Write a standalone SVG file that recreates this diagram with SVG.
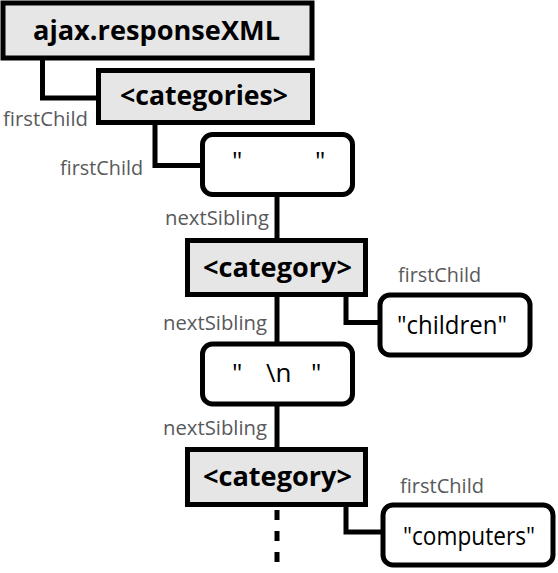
<svg xmlns="http://www.w3.org/2000/svg" width="558" height="573" viewBox="0 0 558 573">
<style>
.el{fill:#e6e6e7;stroke:#000;stroke-width:5}
.tx{fill:#fff;stroke:#000;stroke-width:5}
.bt{font-family:"Open Sans","Liberation Sans",sans-serif;font-weight:bold;font-size:26px;fill:#000}
.rt{font-family:"Open Sans","Liberation Sans",sans-serif;font-size:26px;fill:#000}
.lb{font-family:"Open Sans","Liberation Sans",sans-serif;font-size:20.5px;fill:#58595b}
.ln{fill:none;stroke:#000;stroke-width:5;stroke-linejoin:miter;stroke-linecap:butt}
</style>
<rect width="558" height="573" fill="#fff"/>
<g id="connectors">
<path class="ln" d="M42.5,58 V98 H98.5"/>
<path class="ln" d="M155,122.5 V165.5 H202.5"/>
<path class="ln" d="M277,194.5 V240.5"/>
<path class="ln" d="M346,294.5 V322.5 H380"/>
<path class="ln" d="M277,294.5 V344"/>
<path class="ln" d="M277,404 V449.5"/>
<path class="ln" d="M346,504.5 V532 H383"/>
<path class="ln" d="M277,510 V573" stroke-dasharray="10 11" stroke-width="4.5"/>
<text class="lb" x="3" y="126" textLength="85" lengthAdjust="spacingAndGlyphs">firstChild</text>
<text class="lb" x="60" y="175" textLength="83" lengthAdjust="spacingAndGlyphs">firstChild</text>
<text class="lb" x="165" y="225" textLength="104" lengthAdjust="spacingAndGlyphs">nextSibling</text>
<text class="lb" x="398" y="282" textLength="83" lengthAdjust="spacingAndGlyphs">firstChild</text>
<text class="lb" x="163" y="330" textLength="104" lengthAdjust="spacingAndGlyphs">nextSibling</text>
<text class="lb" x="163" y="435" textLength="104" lengthAdjust="spacingAndGlyphs">nextSibling</text>
<text class="lb" x="400" y="493" textLength="84" lengthAdjust="spacingAndGlyphs">firstChild</text>
</g>
<g id="responseXML">
<rect class="el" x="3" y="3" width="309" height="55" stroke-width="6"/>
<text class="bt" x="33" y="40" textLength="247" lengthAdjust="spacingAndGlyphs">ajax.responseXML</text>
</g>
<g id="categories">
<rect class="el" x="98.5" y="70.5" width="214" height="52"/>
<text class="bt" x="120" y="105" textLength="168" lengthAdjust="spacingAndGlyphs">&lt;categories&gt;</text>
</g>
<g id="whitespace1">
<rect class="tx" x="202.5" y="134.5" width="150" height="60" rx="10"/>
<text class="rt" y="170"><tspan x="232">"</tspan><tspan x="315">"</tspan></text>
</g>
<g id="category1">
<rect class="el" x="187.5" y="240.5" width="178" height="54"/>
<text class="bt" x="203" y="277" textLength="149" lengthAdjust="spacingAndGlyphs">&lt;category&gt;</text>
</g>
<g id="children">
<rect class="tx" x="380" y="295" width="150" height="60" rx="10"/>
<text class="rt" x="397" y="334" textLength="110" lengthAdjust="spacingAndGlyphs">"children"</text>
</g>
<g id="whitespace2">
<rect class="tx" x="202.5" y="344" width="150" height="60" rx="10"/>
<text class="rt" y="382"><tspan x="232">"</tspan><tspan x="266">\n</tspan><tspan x="311">"</tspan></text>
</g>
<g id="category2">
<rect class="el" x="187.5" y="449.5" width="178" height="55"/>
<text class="bt" x="203" y="486" textLength="149" lengthAdjust="spacingAndGlyphs">&lt;category&gt;</text>
</g>
<g id="computers">
<rect class="tx" x="383" y="505" width="170" height="60" rx="10"/>
<text class="rt" x="403" y="545" textLength="132" lengthAdjust="spacingAndGlyphs">"computers"</text>
</g>
</svg>
